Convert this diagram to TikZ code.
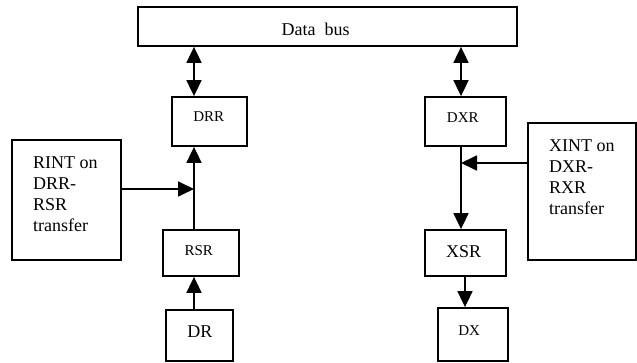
\documentclass[tikz,border=0pt]{standalone}
\usepackage{fontspec}
\setmainfont{Liberation Serif}
\usetikzlibrary{arrows.meta}
\begin{document}
\begin{tikzpicture}[x=1pt,y=-1pt,
  box/.style={draw, line width=1.8pt, inner sep=0pt},
  big/.style={font=\fontsize{18}{21}\selectfont, inner sep=0pt},
  small/.style={font=\fontsize{15}{18}\selectfont, inner sep=0pt},
  conn/.style={line width=1.8pt, -{Triangle[length=16pt,width=15pt]}},
  biconn/.style={line width=1.8pt, {Triangle[length=16pt,width=15pt]}-{Triangle[length=16pt,width=15pt]}}]
\useasboundingbox (0,0) rectangle (637,363);
% boxes
\node[box, minimum width=379pt, minimum height=39pt] (bus) at (327.5,26.5) {};
\node[box, minimum width=75pt, minimum height=49pt] (drr) at (209.5,121.5) {};
\node[box, minimum width=109pt, minimum height=120pt] (rint) at (66.5,200) {};
\node[box, minimum width=76pt, minimum height=46pt] (rsr) at (201,253) {};
\node[box, minimum width=67pt, minimum height=51pt] (dr) at (199.5,335.5) {};
\node[box, minimum width=81pt, minimum height=49pt] (dxr) at (465.5,121.5) {};
\node[box, minimum width=108pt, minimum height=137pt] (xint) at (582,191.5) {};
\node[box, minimum width=81pt, minimum height=46pt] (xsr) at (465.5,253) {};
\node[box, minimum width=70pt, minimum height=53pt] (dx) at (473,334.5) {};
% texts
\node[big, anchor=base] (bust) at (315.7,36) {Data\ \ bus};
\node[small, anchor=base] (drrt) at (208.7,121.5) {DRR};
\node[small, anchor=base] (rsrt) at (198.7,256) {RSR};
\node[big, anchor=base] (drt) at (200,337.5) {DR};
\node[small, anchor=base] (dxrt) at (462.8,122.5) {DXR};
\node[big, anchor=base] (xsrt) at (463.7,257.5) {XSR};
\node[small, anchor=base] (dxt) at (469.2,335) {DX};
\node[big, anchor=north west, align=left] (rintt) at (33,157) {RINT on\\DRR-\\RSR\\transfer};
\node[big, anchor=north west, align=left] (xintt) at (549,140) {XINT on\\DXR-\\RXR\\transfer};
% connector positions
\coordinate (lx) at (194,0);
\coordinate (rx) at (461,0);
\coordinate (dxx) at (465,0);
\coordinate (rj) at (194,189);
\coordinate (xj) at (461,163);
% connectors
\draw[biconn] (bus.south -| lx) -- (drr.north -| lx);
\draw[conn] (rsr.north -| lx) -- (drr.south -| lx);
\draw[conn] (dr.north -| lx) -- (rsr.south -| lx);
\draw[conn] (rint.east |- rj) -- (rj);
\draw[biconn] (bus.south -| rx) -- (dxr.north -| rx);
\draw[conn] (dxr.south -| rx) -- (xsr.north -| rx);
\draw[conn] (xint.west |- xj) -- (xj);
\draw[conn] (xsr.south -| dxx) -- (dx.north -| dxx);
\end{tikzpicture}
\end{document}
